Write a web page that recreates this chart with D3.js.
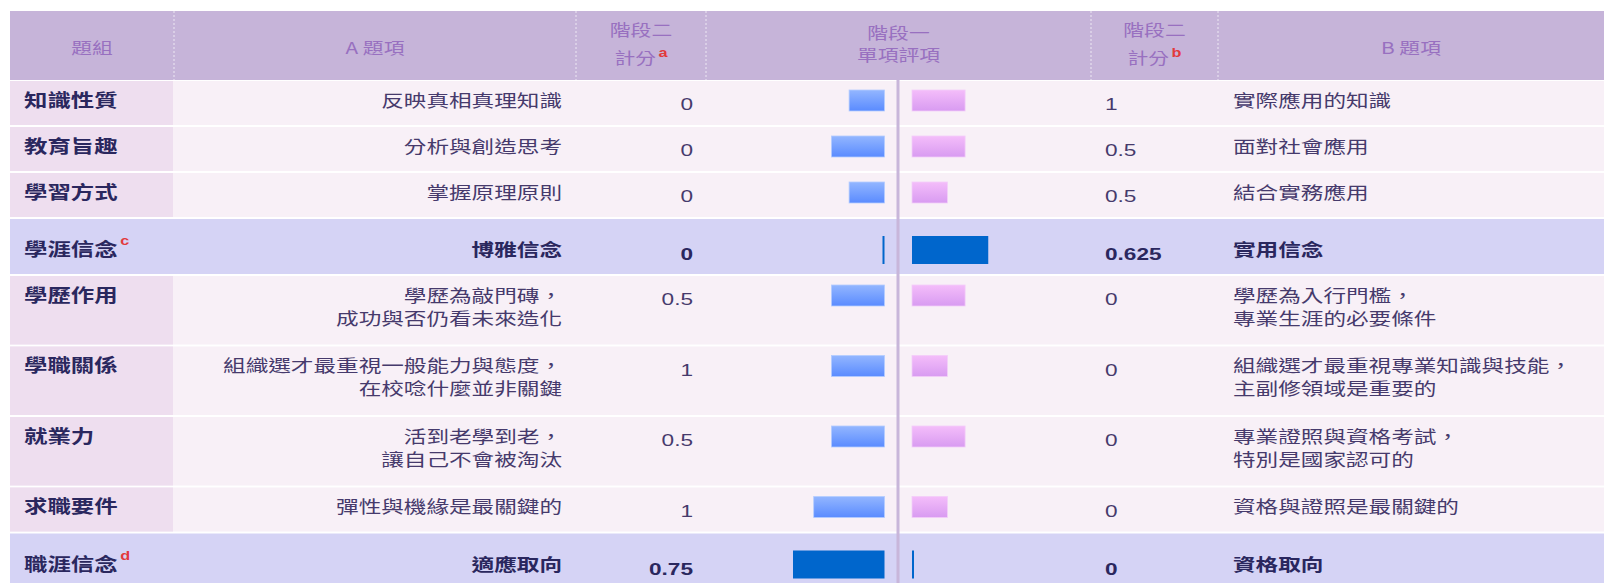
<!DOCTYPE html>
<html>
<head>
<meta charset="utf-8">
<script src="https://cdn.jsdelivr.net/npm/d3@7"></script>
<style>
  body { margin: 0; background: #fff; }
  svg { display: block; }
</style>
</head>
<body>
<script>
// ---- data ----
let groups = ["知識性質", "教育旨趣", "學習方式", "學涯信念", "學歷作用", "學職關係", "就業力", "求職要件", "職涯信念"];
let groupNotes = ["", "", "", "c", "", "", "", "", "d"];
let isSummary = [false, false, false, true, false, false, false, false, true];
let itemsA = [
  ["反映真相真理知識"],
  ["分析與創造思考"],
  ["掌握原理原則"],
  ["博雅信念"],
  ["學歷為敲門磚，", "成功與否仍看未來造化"],
  ["組織選才最重視一般能力與態度，", "在校唸什麼並非關鍵"],
  ["活到老學到老，", "讓自己不會被淘汰"],
  ["彈性與機緣是最關鍵的"],
  ["適應取向"]
];
let itemsB = [
  ["實際應用的知識"],
  ["面對社會應用"],
  ["結合實務應用"],
  ["實用信念"],
  ["學歷為入行門檻，", "專業生涯的必要條件"],
  ["組織選才最重視專業知識與技能，", "主副修領域是重要的"],
  ["專業證照與資格考試，", "特別是國家認可的"],
  ["資格與證照是最關鍵的"],
  ["資格取向"]
];
let scoreA = [0, 0, 0, 0, 0.5, 1, 0.5, 1, 0.75];
let scoreB = [1, 0.5, 0.5, 0.625, 0, 0, 0, 0, 0];
// stage one single-item ratings (bars in plain rows)
let ratingA = [2, 3, 2, null, 3, 3, 3, 4, null];
let ratingB = [3, 3, 2, null, 3, 2, 3, 2, null];

let headerLines = [["題組"], ["A 題項"], ["階段二", "計分"], ["階段一", "單項評項"], ["階段二", "計分"], ["B 題項"]];
let headerNotes = ["", "", "a", "", "b", ""];

// ---- layout ----
const W = 1604, H = 583;
const SX = 1.3;               // the source text is drawn wide
const CJK = "'Noto Sans CJK TC', 'Noto Sans CJK SC', sans-serif";
const NUM = "'Liberation Sans', Arial, sans-serif";
const colX = [10, 174, 576, 706, 1091, 1218, W];
const midX = 898;
const headTop = 11, headBottom = 80;

const c = {
  head: "#c6b4d9", headText: "#9870c0", body: "#f8f0f7", first: "#eedeef",
  summary: "#d5d3f5", text: "#463a6c", bold: "#2a275e", note: "#e23a3c",
  mid: "#c8b6da", dark: "#0066cc"
};

let svg = d3.select("body").append("svg")
  .attr("width", W)
  .attr("height", H);

let defs = svg.append("defs");
function grad(id, top, bottom) {
  let g = defs.append("linearGradient").attr("id", id)
    .attr("x1", 0).attr("y1", 0).attr("x2", 0).attr("y2", 1);
  g.append("stop").attr("offset", "0%").attr("stop-color", top);
  g.append("stop").attr("offset", "100%").attr("stop-color", bottom);
}
grad("blueBar", "#93b6ff", "#5a8bff");
grad("pinkBar", "#f4bdfa", "#d89bf1");

// rows: heights from line count
let rowH = groups.map((g, i) => {
  if (isSummary[i]) return 57;
  let n = Math.max(itemsA[i].length, itemsB[i].length);
  return n > 1 ? 70.5 : 46;
});
let rowTop = [];
rowH.reduce((acc, h, i) => { rowTop[i] = acc; return acc + h; }, headBottom);

// bar scales
let rateL = d3.scaleLinear().domain([0, 5]).range([884.5, 884.5 - 88.5]);
let rateR = d3.scaleLinear().domain([0, 5]).range([912, 912 + 88.5]);
let sumL = d3.scaleLinear().domain([0, 1]).range([884.5, 884.5 - 122]);
let sumR = d3.scaleLinear().domain([0, 1]).range([912, 912 + 122]);

function txt(parent, x, y, s, o) {
  o = o || {};
  let g = parent.append("g").attr("transform", "translate(" + x + "," + y + ") scale(" + SX + ",1)");
  let t = g.append("text")
    .attr("text-anchor", o.anchor || "start")
    .attr("font-family", o.family || CJK)
    .attr("font-size", o.size || 17.4)
    .attr("font-weight", o.weight || 400)
    .attr("fill", o.color || c.text)
    .text(s);
  if (o.note) {
    t.append("tspan")
      .attr("dx", o.noteDx || 3)
      .attr("dy", o.noteDy || -9)
      .attr("font-family", NUM)
      .attr("font-size", 12.5)
      .attr("font-weight", 700)
      .attr("fill", c.note)
      .text(o.note);
  }
  return t;
}

// ---- header ----
svg.append("rect")
  .attr("x", colX[0]).attr("y", headTop)
  .attr("width", W - colX[0]).attr("height", headBottom - headTop)
  .attr("fill", c.head);

[1, 2, 3, 4, 5].forEach(k => {
  svg.append("line")
    .attr("x1", colX[k]).attr("x2", colX[k])
    .attr("y1", headTop).attr("y2", headBottom)
    .attr("stroke", "#fff").attr("stroke-width", 1)
    .attr("stroke-dasharray", "2,2").attr("opacity", 0.7);
});

headerLines.forEach((lines, k) => {
  let cx = (colX[k] + colX[k + 1]) / 2;
  let ys;
  if (lines.length == 1) ys = [54];
  else if (k == 3) ys = [39, 61];
  else ys = [36, 64];
  lines.forEach((s, j) => {
    txt(svg, cx, ys[j], s, {
      anchor: "middle", size: 16, color: c.headText,
      note: (j == lines.length - 1 && headerNotes[k]) ? headerNotes[k] : null,
      noteDx: 2, noteDy: -7
    });
  });
});

// ---- rows ----
let rows = svg.selectAll("g.row")
  .data(groups)
  .enter()
  .append("g")
  .attr("class", "row");

rows.each(function (g, i) {
  let row = d3.select(this);
  let top = rowTop[i], h = rowH[i] - 2;
  let sum = isSummary[i];

  row.append("rect")
    .attr("x", colX[0]).attr("y", top + 1)
    .attr("width", W - colX[0]).attr("height", h)
    .attr("fill", sum ? c.summary : c.body);
  if (!sum) {
    row.append("rect")
      .attr("x", colX[0]).attr("y", top + 1)
      .attr("width", colX[1] - colX[0] - 1).attr("height", h)
      .attr("fill", c.first);
  }

  let base = sum ? top + 38 : top + 26.5;   // first line baseline (CJK)
  let numBase = sum ? top + 42 : top + 30;
  let weight = sum ? 700 : 400;
  let col = sum ? c.bold : c.text;

  txt(row, 24, base, g, {
    size: 18, weight: 700, color: c.bold,
    note: groupNotes[i] || null, noteDx: 2, noteDy: -11
  });

  itemsA[i].forEach((s, j) => {
    txt(row, 562, base + j * 23, s, { anchor: "end", weight: weight, color: col });
  });
  itemsB[i].forEach((s, j) => {
    txt(row, 1233, base + j * 23, s, { weight: weight, color: col });
  });

  txt(row, 693, numBase, String(scoreA[i]), { anchor: "end", family: NUM, weight: weight, color: col });
  txt(row, 1105, numBase, String(scoreB[i]), { family: NUM, weight: weight, color: col });

  // bars
  if (sum) {
    let cy = top + 32, bh = 28;
    let xl = sumL(scoreA[i]), xr = sumR(scoreB[i]);
    row.append("rect")
      .attr("x", Math.min(xl, sumL(0) - 2)).attr("y", cy - bh / 2)
      .attr("width", Math.max(sumL(0) - xl, 2)).attr("height", bh)
      .attr("fill", c.dark);
    row.append("rect")
      .attr("x", sumR(0)).attr("y", cy - bh / 2)
      .attr("width", Math.max(xr - sumR(0), 2)).attr("height", bh)
      .attr("fill", c.dark);
  } else {
    let cy = top + 20.5, bh = 21;
    row.append("rect")
      .attr("x", rateL(ratingA[i])).attr("y", cy - bh / 2)
      .attr("width", rateL(0) - rateL(ratingA[i])).attr("height", bh)
      .attr("fill", "url(#blueBar)")
      .attr("stroke", "#b4ccff").attr("stroke-width", 0.8);
    row.append("rect")
      .attr("x", rateR(0)).attr("y", cy - bh / 2)
      .attr("width", rateR(ratingB[i]) - rateR(0)).attr("height", bh)
      .attr("fill", "url(#pinkBar)")
      .attr("stroke", "#f3cdf9").attr("stroke-width", 0.8);
  }
});

// centre divider
svg.append("line")
  .attr("x1", midX).attr("x2", midX)
  .attr("y1", headBottom).attr("y2", H)
  .attr("stroke", c.mid).attr("stroke-width", 3);
</script>
</body>
</html>
